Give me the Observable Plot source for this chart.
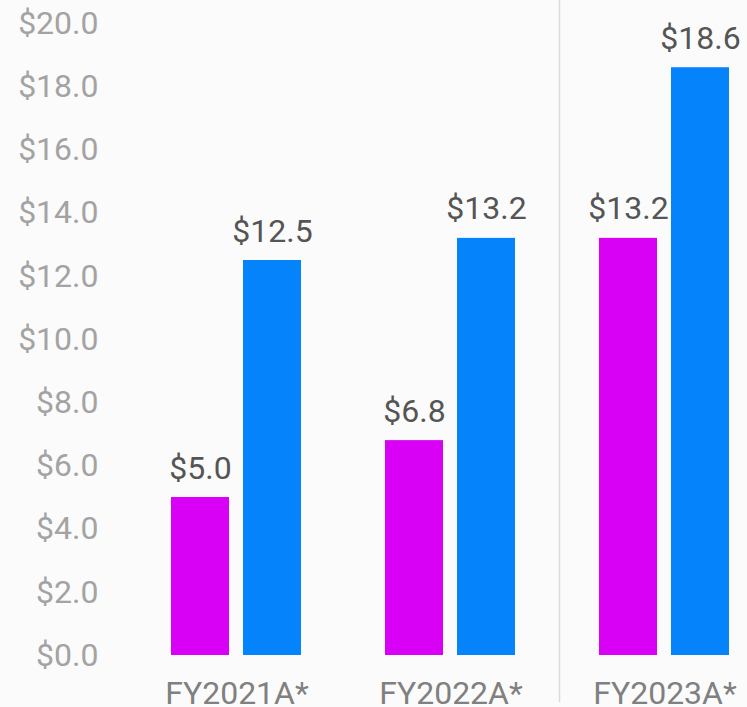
<!DOCTYPE html>
<html>
<head>
<meta charset="utf-8">
<script src="https://cdn.jsdelivr.net/npm/d3@7"></script>
<script src="https://cdn.jsdelivr.net/npm/@observablehq/plot@0.6"></script>
<style>
  html, body { margin: 0; padding: 0; background: #fbfbfb; }
  #chart { width: 747px; height: 707px; overflow: hidden; }
  svg { font-family: Roboto, "Noto Sans", sans-serif; }
</style>
</head>
<body>
<div id="chart"></div>
<script>
const years = ["FY2021A*", "FY2022A*", "FY2023A*"];
const seriesNames = ["Series 1", "Series 2"];
const series1 = [5.0, 6.8, 13.2];
const series2 = [12.5, 13.2, 18.6];
const yTicks = [0, 2, 4, 6, 8, 10, 12, 14, 16, 18, 20];
const colors = ["#d800f5", "#0583fa"];
const dividerBefore = ["FY2023A*"];

const data = [];
years.forEach((y, i) => {
  data.push({year: y, series: seriesNames[0], value: series1[i]});
  data.push({year: y, series: seriesNames[1], value: series2[i]});
});

const chart = Plot.plot({
  width: 747,
  height: 707,
  marginLeft: 170,
  marginRight: 15,
  marginTop: 23,
  marginBottom: 52,
  style: {fontFamily: "Roboto, 'Noto Sans', sans-serif", fontSize: "32px", fontWeight: "400", background: "transparent", overflow: "visible"},
  fx: {domain: years, paddingInner: 0.386, paddingOuter: 0, label: null, axis: null},
  x: {domain: seriesNames, paddingInner: 0.192, paddingOuter: 0, axis: null},
  y: {domain: [0, 20], label: null, axis: null},
  color: {domain: seriesNames, range: colors},
  marks: [
    Plot.ruleX(dividerBefore.map(() => seriesNames[0]), {
      fx: dividerBefore.map(d => d),
      x: d => d,
      dx: -69,
      stroke: "#dcdcdc",
      strokeWidth: 1.5,
      insetTop: -23,
      insetBottom: -47
    }),
    Plot.barY(data, {fx: "year", x: "series", y: "value", fill: "series"}),
    Plot.text(data, {
      fx: "year", x: "series", y: "value",
      text: d => "$" + d.value.toFixed(1),
      lineAnchor: "bottom", dy: -19,
      fill: "#555555", fontSize: 32, fontWeight: "normal"
    }),
    Plot.axisY({ticks: yTicks, tickFormat: d => "$" + d.toFixed(1), tickSize: 0, tickPadding: 73, color: "#a3a3a3", fontSize: 32, fontWeight: "normal", label: null}),
    Plot.axisFx({anchor: "bottom", tickSize: 0, tickPadding: 26, color: "#808080", fontSize: 32, fontWeight: "normal", label: null})
  ]
});
document.getElementById("chart").appendChild(chart);
</script>
</body>
</html>
